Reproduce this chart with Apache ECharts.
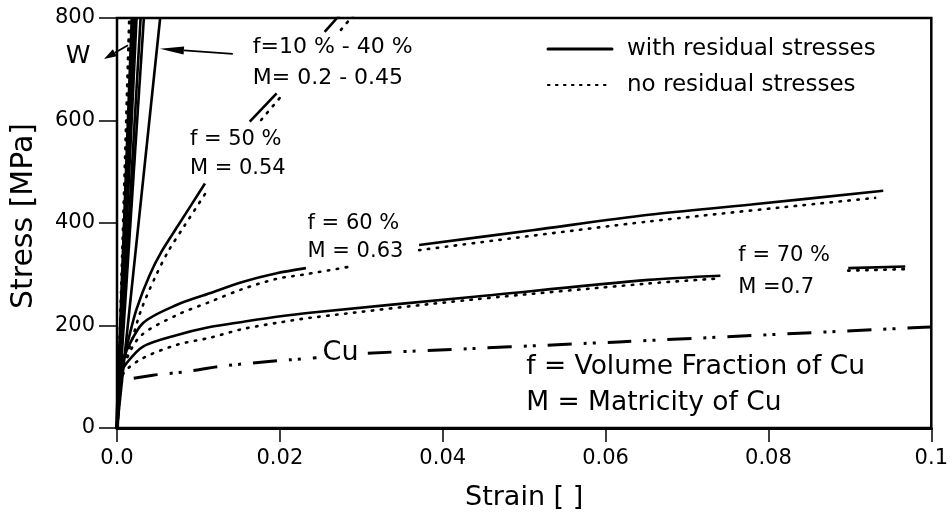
<!DOCTYPE html>
<html><head><meta charset="utf-8">
<script src="https://cdn.jsdelivr.net/npm/echarts@6/dist/echarts.min.js"></script>
<style>html,body{margin:0;padding:0;background:#fff}#c{width:951px;height:516px}</style>
</head><body><div id="c"></div>
<script>
// ---- tick labels ----
const xTickLabels = ['0.0', '0.02', '0.04', '0.06', '0.08', '0.1'];
const yTickLabels = ['0', '200', '400', '600', '800'];

// ---- steep curves (W and f = 10 % - 40 %) ----
const wSolid = [[0, 0], [0.0019, 800]];
const wDotted = [[0, 0], [0.0015, 800]];
const f10Solid = [[0, 0], [0.0022, 800]];
const f10Dotted = [[0, 0], [0.0017, 800]];
const f20Solid = [[0, 0], [0.0024, 800]];
const f20Dotted = [[0, 0], [0.0021, 800]];
const f30Solid = [[0, 0], [0.0029, 800]];
const f40Solid = [[0, 0], [0.0033, 800]];
const f40bSolid = [[0, 0], [0.0053, 800]];

// ---- f = 50 % (segments, gaps where labels sit) ----
const f50Solid = [
  [[0, 0], [0.0007, 120], [0.0014, 172], [0.0024, 232], [0.0040, 298], [0.0055, 345], [0.0075, 395], [0.0108, 477]],
  [[0.0163, 598], [0.0196, 653]],
  [[0.0255, 773], [0.0273, 805]]
];
const f50Dotted = [
  [[0, 0], [0.0009, 125], [0.0017, 165], [0.0030, 232], [0.0048, 298], [0.0063, 345], [0.0083, 395], [0.0112, 466]],
  [[0.0177, 601], [0.0203, 650]],
  [[0.0275, 777], [0.0290, 805]]
];

// ---- f = 60 % ----
const f60Solid = [
  [[0, 0], [0.0006, 120], [0.0012, 152], [0.0032, 205], [0.0073, 240], [0.0114, 263], [0.0154, 285], [0.0196, 302], [0.0232, 312]],
  [[0.0371, 357], [0.0510, 386], [0.0653, 416], [0.0779, 436], [0.0941, 463]]
];
const f60Dotted = [
  [[0, 0], [0.0008, 115], [0.0028, 178], [0.0073, 220], [0.0114, 246], [0.0154, 271], [0.0196, 291], [0.0232, 300], [0.0283, 314]],
  [[0.0371, 347], [0.0653, 403], [0.0931, 449]]
];

// ---- f = 70 % ----
const f70Solid = [
  [[0, 0], [0.0005, 105], [0.0012, 127], [0.0032, 159], [0.0073, 181], [0.0114, 197], [0.0154, 207], [0.0196, 217], [0.0237, 225], [0.0439, 256], [0.0653, 289], [0.0741, 297]],
  [[0.0898, 312], [0.0968, 315]]
];
const f70Dotted = [
  [[0, 0], [0.0006, 100], [0.0028, 133], [0.0073, 162], [0.0114, 176], [0.0154, 193], [0.0196, 205], [0.0237, 215], [0.0439, 251], [0.0653, 282], [0.0741, 292]],
  [[0.0898, 307], [0.0968, 310]]
];

// ---- Cu ----
const cuCurve = [
  [[0, 0], [0.0005, 90], [0.0010, 94], [0.0044, 103], [0.0085, 110], [0.0126, 120], [0.0167, 127], [0.0212, 133], [0.0245, 137]],
  [[0.0308, 146], [0.0616, 168], [0.0984, 196], [0.1, 197]]
];

// ---- annotations (data coordinates) ----
const annotations = [
  { text: 'f=10 % - 40 %', x: 0.01667, y: 743, size: 22 },
  { text: 'M= 0.2 - 0.45', x: 0.01667, y: 683, size: 22 },
  { text: 'f = 50 %', x: 0.00895, y: 562, size: 21 },
  { text: 'M = 0.54', x: 0.00895, y: 507, size: 21 },
  { text: 'f = 60 %', x: 0.0234, y: 398, size: 21 },
  { text: 'M = 0.63', x: 0.0234, y: 344, size: 21 },
  { text: 'f = 70 %', x: 0.0763, y: 336, size: 21 },
  { text: 'M =0.7', x: 0.0763, y: 275, size: 21 },
  { text: 'Cu', x: 0.02525, y: 146, size: 27 },
  { text: 'f = Volume Fraction of Cu', x: 0.05025, y: 119, size: 26.5 },
  { text: 'M = Matricity of Cu', x: 0.05025, y: 49, size: 26.5 }
];
const wLabel = { text: 'W', x: -0.00478, y: 724, size: 25 };
const arrows = [
  { from: [0.01422, 730], to: [0.00527, 740] },
  { from: [0.00135, 747], to: [-0.00159, 720] }
];
const legendItems = [
  { text: 'with residual stresses', dotted: false },
  { text: 'no residual stresses', dotted: true }
];

const FONT = '"DejaVu Sans", sans-serif';
const solidStyle = { color: '#000', width: 2.6, type: 'solid' };
const dotStyle = { color: '#000', width: 2.6, type: [1.5, 7.5], cap: 'round' };
const cuStyle = { color: '#000', width: 3, type: [24, 12, 3, 6, 3, 12] };

const series = [];
function add(data, ls, smooth) {
  series.push({
    type: 'line', data: data, symbol: 'none', showSymbol: false,
    smooth: smooth ? 0.3 : false, lineStyle: ls, silent: true, animation: false, z: 3
  });
}
add(wSolid, Object.assign({}, solidStyle, { width: 4 }));
add(wDotted, dotStyle);
add(f10Solid, solidStyle);
add(f10Dotted, dotStyle);
add(f20Solid, solidStyle);
add(f20Dotted, dotStyle);
add(f30Solid, solidStyle);
add(f40Solid, solidStyle);
add(f40bSolid, solidStyle);
[f50Solid, f60Solid, f70Solid].forEach(c => c.forEach(s => add(s, solidStyle, true)));
[f50Dotted, f60Dotted, f70Dotted].forEach(c => c.forEach(s => add(s, dotStyle, true)));
cuCurve.forEach(s => add(s, cuStyle, true));

const chart = echarts.init(document.getElementById('c'), null, { renderer: 'canvas' });
chart.setOption({
  animation: false,
  backgroundColor: '#fff',
  grid: { left: 117, right: 18, top: 18, bottom: 88, show: true, borderColor: '#000', borderWidth: 2.5, backgroundColor: 'transparent' },
  xAxis: {
    type: 'value', min: 0, max: 0.1, interval: 0.02,
    axisLine: { show: true, onZero: false, lineStyle: { color: '#000', width: 3 } },
    axisTick: { show: true, length: 14, lineStyle: { color: '#000', width: 1.5 } },
    axisLabel: { margin: 20, fontSize: 21, fontFamily: FONT, color: '#000', formatter: (v, i) => xTickLabels[i] },
    splitLine: { show: false },
    name: 'Strain [ ]', nameLocation: 'middle', nameGap: 56,
    nameTextStyle: { fontSize: 27, fontFamily: FONT, color: '#000' }
  },
  yAxis: {
    type: 'value', min: 0, max: 800, interval: 200,
    axisLine: { show: true, onZero: false, lineStyle: { color: '#000', width: 2 } },
    axisTick: { show: true, length: 18, lineStyle: { color: '#000', width: 1.5 } },
    axisLabel: { margin: 22, fontSize: 21, fontFamily: FONT, color: '#000', formatter: (v, i) => yTickLabels[i] },
    splitLine: { show: false },
    name: 'Stress [MPa]', nameLocation: 'middle', nameGap: 78, nameRotate: 90,
    nameTextStyle: { fontSize: 30, fontFamily: FONT, color: '#000', padding: [0, 0, 0, 14] }
  },
  series: series
});

// ---- graphic annotations ----
const px = (p) => chart.convertToPixel({ gridIndex: 0 }, p);
const g = [];
annotations.forEach(a => {
  const p = px([a.x, a.y]);
  g.push({ type: 'text', z: 10, style: { text: a.text, x: p[0], y: p[1], font: a.size + 'px ' + FONT, fill: '#000', textAlign: 'left', textVerticalAlign: 'middle' } });
});
{
  const p = px([wLabel.x, wLabel.y]);
  g.push({ type: 'text', z: 10, style: { text: wLabel.text, x: p[0], y: p[1], font: wLabel.size + 'px ' + FONT, fill: '#000', textAlign: 'center', textVerticalAlign: 'middle' } });
}
arrows.forEach(a => {
  const f = px(a.from), t = px(a.to);
  const dx = t[0] - f[0], dy = t[1] - f[1], L = Math.hypot(dx, dy);
  const ux = dx / L, uy = dy / L, hl = Math.min(24, L * 0.45), hw = 4;
  const bx = t[0] - ux * hl, by = t[1] - uy * hl;
  g.push({ type: 'line', z: 10, shape: { x1: f[0], y1: f[1], x2: bx, y2: by }, style: { stroke: '#000', lineWidth: 1.8 } });
  g.push({ type: 'polygon', z: 10, shape: { points: [[t[0], t[1]], [bx - uy * hw, by + ux * hw], [bx + uy * hw, by - ux * hw]] }, style: { fill: '#000' } });
});
// legend
legendItems.forEach((it, i) => {
  const yy = 49 + i * 36;
  g.push({ type: 'line', z: 10, shape: { x1: 548, y1: yy, x2: it.dotted ? 608 : 612, y2: yy }, style: { stroke: '#000', lineWidth: it.dotted ? 2.2 : 3, lineDash: it.dotted ? [1.5, 6.5] : null, lineCap: 'round' } });
  g.push({ type: 'text', z: 10, style: { text: it.text, x: 627, y: yy, font: '23px ' + FONT, fill: '#000', textAlign: 'left', textVerticalAlign: 'middle' } });
});
chart.setOption({ graphic: g });
</script></body></html>
